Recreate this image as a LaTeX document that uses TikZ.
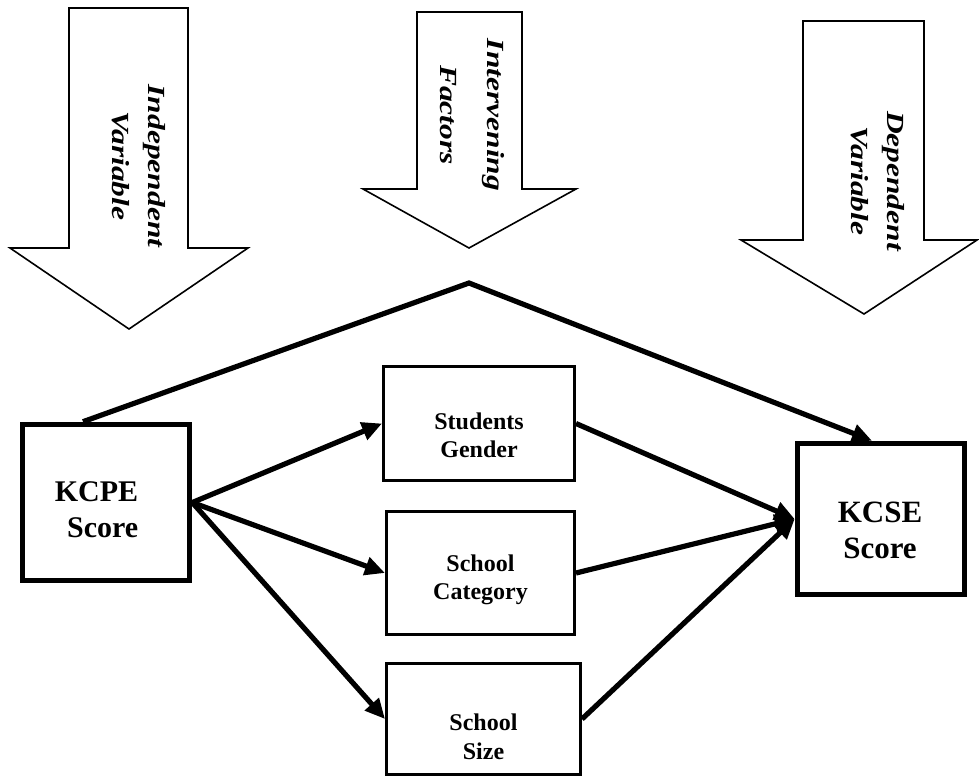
\documentclass[tikz,border=0pt]{standalone}
\usepackage{fontspec}
\setmainfont{Liberation Serif}
\newfontfamily\widefont{Liberation Serif}[FakeStretch=1.28]
\usepackage{tikz}
\usetikzlibrary{arrows.meta}
\tikzset{%
  link/.style={line width=2.6pt},
  bigarrow/.style={draw,line width=0.8pt,fill=white,line join=miter},
  score/.style={draw,line width=2.8pt,minimum width=83.5pt},
  caption/.style={inner sep=0pt,align=center},
}

\begin{document}
\begin{tikzpicture}[x=0.5pt,y=-0.5pt,
    midbox/.style 2 args={draw, line width=1.7pt,
      minimum width=#1, minimum height=#2},
    vlabel/.style={inner sep=0pt, rotate=-90, align=center,
      font=\widefont\fontsize{12.3}{18}\selectfont\bfseries\itshape}]
    \tikzset{>={Triangle[length=10pt,width=9pt]}}
    \useasboundingbox (0,0) rectangle (979,777);

    \foreach \sl/\sr/\st/\sb/\hl/\hr/\tx/\ty in {69/188/8/248/10/248/129/329,
        417/522/12/189/363/576/469/248,803/924/21/240/741/977/864/314}
      \draw[bigarrow] (\sl,\st) -- (\sr,\st) -- (\sr,\sb) -- (\hr,\sb)
        -- (\tx,\ty) -- (\hl,\sb) -- (\sl,\sb) -- cycle;

    \node[vlabel] (indep) at (139,166) {Independent\\Variable};
    \node[vlabel] (interv) at (472,115) {Intervening\\[5.5pt]Factors};
    \node[vlabel] (dep) at (878,181) {Dependent\\Variable};

    \node[score,minimum height=78pt] (kcpe) at (106,502.5) {};
    \node[score,minimum height=75.5pt] (kcse) at (881,519) {};
    \node[midbox={95.3pt}{56.8pt}] (gender) at (479,423.5) {};
    \node[midbox={93.8pt}{61.3pt}] (category) at (480.5,573) {};
    \node[midbox={96.8pt}{55.3pt}] (size) at (483.5,719) {};

    \node[caption,align=right,font=\bfseries\fontsize{15}{18}\selectfont]
      (kcpetxt) at (96.5,510) {KCPE\\Score};
    \node[caption,font=\bfseries\fontsize{15.5}{18}\selectfont]
      (kcsetxt) at (880,530) {KCSE\\Score};
    \node[caption,font=\bfseries\fontsize{12}{14}\selectfont]
      (gendertxt) at (479,435) {Students\\Gender};
    \node[caption,font=\bfseries\fontsize{12}{14}\selectfont]
      (categorytxt) at (480.5,580) {School\\Category};
    \node[caption,font=\bfseries\fontsize{12}{14.5}\selectfont]
      (sizetxt) at (483.5,737) {School\\Size};

    \coordinate (apex) at (469,283);
    \draw[link,->] ([xshift=-11.5pt]kcpe.north) -- (apex)
      -- ([xshift=-4.5pt]kcse.north);

    \foreach \mid in {gender,category,size}
      \draw[link,->] (kcpe.east) -- (\mid.west);
    \foreach \mid in {gender,category,size}
      \draw[link,->] (\mid.east) -- (kcse.west);
  \end{tikzpicture}
\end{document}
